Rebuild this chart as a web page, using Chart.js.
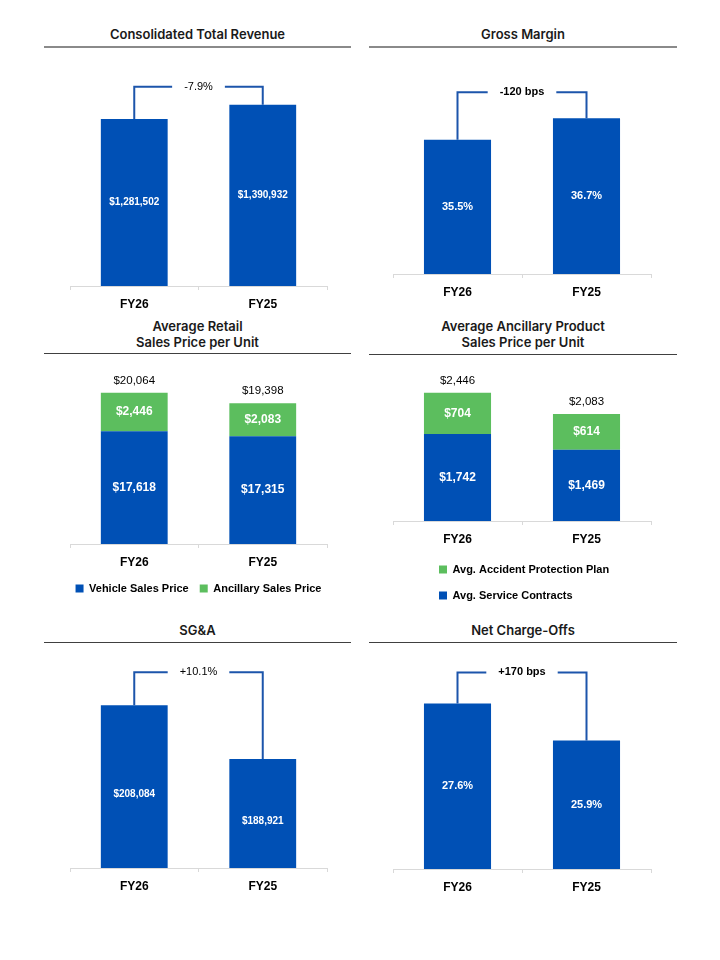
<!DOCTYPE html>
<html>
<head>
<meta charset="utf-8">
<script src="https://cdn.jsdelivr.net/npm/chart.js@4/dist/chart.umd.min.js"></script>
<style>
body { margin: 0; background: #fff; width: 720px; height: 960px; position: relative; overflow: hidden; }
.ttl { position: absolute; text-align: center; font-family: Inter, "Liberation Sans", sans-serif; font-weight: 600; font-size: 13px; color: #1a1a1a; line-height: 18px; }
.ttl.two { line-height: 16px; }
.rule { position: absolute; height: 0; }
.box { position: absolute; }
</style>
</head>
<body>

<div class="ttl" style="left:44px;width:307px;top:25px">Consolidated Total Revenue</div>
<div class="rule" style="left:44px;width:307px;top:46px;border-top:2px solid #8a8a8a"></div>
<div class="ttl" style="left:369px;width:308px;top:25px">Gross Margin</div>
<div class="rule" style="left:369px;width:308px;top:46px;border-top:2px solid #8a8a8a"></div>

<div class="ttl two" style="left:44px;width:307px;top:318px">Average Retail<br>Sales Price per Unit</div>
<div class="rule" style="left:44px;width:307px;top:353px;border-top:1.5px solid #404040"></div>
<div class="ttl two" style="left:369px;width:308px;top:318px">Average Ancillary Product<br>Sales Price per Unit</div>
<div class="rule" style="left:369px;width:308px;top:354px;border-top:1.5px solid #404040"></div>

<div class="ttl" style="left:44px;width:307px;top:621px">SG&amp;A</div>
<div class="rule" style="left:44px;width:307px;top:642px;border-top:1.5px solid #404040"></div>
<div class="ttl" style="left:369px;width:308px;top:621px">Net Charge-Offs</div>
<div class="rule" style="left:369px;width:308px;top:642px;border-top:1.5px solid #404040"></div>

<div class="box" style="left:66px;top:50px;width:265px;height:264px"><canvas id="revenue"></canvas></div>
<div class="box" style="left:389px;top:50px;width:266px;height:252px"><canvas id="margin"></canvas></div>
<div class="box" style="left:46px;top:356px;width:305px;height:248px"><canvas id="retail"></canvas></div>
<div class="box" style="left:389px;top:358px;width:266px;height:253px"><canvas id="ancillary"></canvas></div>
<div class="box" style="left:66px;top:648px;width:265px;height:248px"><canvas id="sga"></canvas></div>
<div class="box" style="left:389px;top:648px;width:266px;height:249px"><canvas id="nco"></canvas></div>

<script>
// values
const categories = ['FY26', 'FY25'];
const totalRevenue = [1281502, 1390932];
const grossMargin = [35.5, 36.7];
const vehicleSalesPrice = [17618, 17315];
const ancillarySalesPrice = [2446, 2083];
const serviceContracts = [1742, 1469];
const accidentProtection = [704, 614];
const sgaExpense = [208084, 188921];
const netChargeOffs = [27.6, 25.9];
const changeLabels = { revenue: '-7.9%', margin: '-120 bps', sga: '+10.1%', nco: '+170 bps' };

const BLUE = '#0050B5';
const GREEN = '#5CBE5E';
const LINE = '#1C55AB';
const SANS = '"Liberation Sans", Arial, sans-serif';

function fmt(v, kind)
{
    if (kind === 'pct') return v.toFixed(1) + '%';
    return '$' + v.toLocaleString('en-US');
}

// white value labels in the middle of each bar, optional total on top of the stack
const barValueLabels = {
    id: 'barValueLabels',
    afterDatasetsDraw(chart, args, opts) {
        const ctx = chart.ctx;
        const bottom = chart.chartArea.bottom;
        ctx.save();
        ctx.textAlign = 'center';
        ctx.textBaseline = 'middle';
        chart.data.datasets.forEach((ds, i) => {
            chart.getDatasetMeta(i).data.forEach((bar, j) => {
                const base = Math.min(bar.base, bottom);
                ctx.fillStyle = '#fff';
                ctx.font = opts.font;
                ctx.fillText(fmt(ds.data[j], opts.kind), bar.x, (bar.y + base) / 2 + (opts.shift || 0));
            });
        });
        if (opts.total) {
            const last = chart.getDatasetMeta(chart.data.datasets.length - 1);
            last.data.forEach((bar, j) => {
                const sum = chart.data.datasets.reduce((s, ds) => s + ds.data[j], 0);
                ctx.fillStyle = '#000';
                ctx.font = opts.totalFont;
                ctx.fillText(fmt(sum, opts.kind), bar.x, bar.y - 12);
            });
        }
        ctx.restore();
    }
};

// bracket joining the two bars with the change label in the gap
const changeBracket = {
    id: 'changeBracket',
    afterDatasetsDraw(chart, args, opts) {
        if (!opts.text) return;
        const ctx = chart.ctx;
        const bars = chart.getDatasetMeta(0).data;
        const a = bars[0], b = bars[1];
        const top = Math.min(a.y, b.y) - opts.rise;
        const mid = (a.x + b.x) / 2;
        ctx.save();
        ctx.font = opts.font;
        const half = ctx.measureText(opts.text).width / 2 + 12;
        ctx.strokeStyle = LINE;
        ctx.lineWidth = 2;
        ctx.beginPath();
        ctx.moveTo(a.x, a.y);
        ctx.lineTo(a.x, top);
        ctx.lineTo(mid - half, top);
        ctx.moveTo(mid + half, top);
        ctx.lineTo(b.x, top);
        ctx.lineTo(b.x, b.y);
        ctx.stroke();
        ctx.fillStyle = '#000';
        ctx.textAlign = 'center';
        ctx.textBaseline = 'middle';
        ctx.fillText(opts.text, mid, top);
        ctx.restore();
    }
};

// push the legend block to the right when it is left aligned
const legendIndent = {
    id: 'legendIndent',
    afterLayout(chart, args, opts) {
        if (opts.px && chart.legend) chart.legend.left += opts.px;
    }
};

// empty side axes, used when the legend needs more width than the bars
function sideAxis(pos, w)
{
    return {
        position: pos, display: true,
        ticks: { display: false }, grid: { display: false }, border: { display: false },
        afterFit: s => { s.width = w; }
    };
}

function makeChart(id, datasets, yMin, yMax, padTop, plugins, side)
{
    const pad = side ? 0 : 4;
    const scales = {
        x: {
            stacked: true,
            border: { color: '#D9D9D9' },
            grid: { drawOnChartArea: false, tickLength: 4, color: '#D9D9D9' },
            ticks: { padding: 7, color: '#000', font: { family: SANS, size: 12, weight: 'bold' } },
            afterFit: s => { s.height = 28; }
        },
        y: { stacked: true, display: false, min: yMin, max: yMax }
    };
    if (side) {
        Object.assign(scales.y, sideAxis('left', side));
        scales.yr = sideAxis('right', side);
    }
    return new Chart(document.getElementById(id), {
        type: 'bar',
        data: { labels: categories, datasets: datasets },
        plugins: [barValueLabels, changeBracket, legendIndent],
        options: {
            responsive: true,
            maintainAspectRatio: false,
            animation: false,
            layout: { padding: { top: padTop, left: pad, right: pad, bottom: 0 } },
            datasets: { bar: { categoryPercentage: 1, barPercentage: 0.52 } },
            scales: scales,
            plugins: Object.assign({
                legend: { display: false },
                tooltip: { enabled: false }
            }, plugins)
        }
    });
}

function legendOpts(pad, align, reverse)
{
    return {
        display: true,
        position: 'bottom',
        align: align,
        reverse: reverse,
        labels: {
            boxWidth: 8, boxHeight: 8, padding: pad, color: '#000',
            font: { family: SANS, size: 11, weight: 'bold' }
        }
    };
}

makeChart('revenue',
    [{ label: 'Revenue', data: totalRevenue, backgroundColor: BLUE }],
    0, 1750000, 8,
    {
        barValueLabels: { kind: 'usd', font: 'bold 10px ' + SANS },
        changeBracket: { text: changeLabels.revenue, rise: 18, font: '11px ' + SANS }
    });

makeChart('margin',
    [{ label: 'Gross Margin', data: grossMargin, backgroundColor: BLUE }],
    28, 40, 9,
    {
        barValueLabels: { kind: 'pct', font: 'bold 11px ' + SANS },
        changeBracket: { text: changeLabels.margin, rise: 26, font: 'bold 11px ' + SANS }
    });

makeChart('retail',
    [
        { label: 'Vehicle Sales Price', data: vehicleSalesPrice, backgroundColor: BLUE },
        { label: 'Ancillary Sales Price', data: ancillarySalesPrice, backgroundColor: GREEN }
    ],
    10500, 22000, 6,
    {
        legend: legendOpts(11, 'center', false),
        barValueLabels: { kind: 'usd', font: 'bold 12px ' + SANS, total: true, totalFont: '11.5px ' + SANS }
    },
    24);

makeChart('ancillary',
    [
        { label: 'Avg. Service Contracts', data: serviceContracts, backgroundColor: BLUE },
        { label: 'Avg. Accident Protection Plan', data: accidentProtection, backgroundColor: GREEN }
    ],
    250, 2700, 20,
    {
        legend: legendOpts(15, 'start', true),
        legendIndent: { px: 31 },
        barValueLabels: { kind: 'usd', font: 'bold 12px ' + SANS, total: true, totalFont: '11.5px ' + SANS }
    });

makeChart('sga',
    [{ label: 'SG&A', data: sgaExpense, backgroundColor: BLUE }],
    150000, 225000, 10,
    {
        barValueLabels: { kind: 'usd', font: 'bold 10px ' + SANS, shift: 8 },
        changeBracket: { text: changeLabels.sga, rise: 33, font: '11px ' + SANS }
    });

makeChart('nco',
    [{ label: 'Net Charge-Offs', data: netChargeOffs, backgroundColor: BLUE }],
    20, 29.5, 14,
    {
        barValueLabels: { kind: 'pct', font: 'bold 11px ' + SANS },
        changeBracket: { text: changeLabels.nco, rise: 31, font: 'bold 11px ' + SANS }
    });
</script>
</body>
</html>
